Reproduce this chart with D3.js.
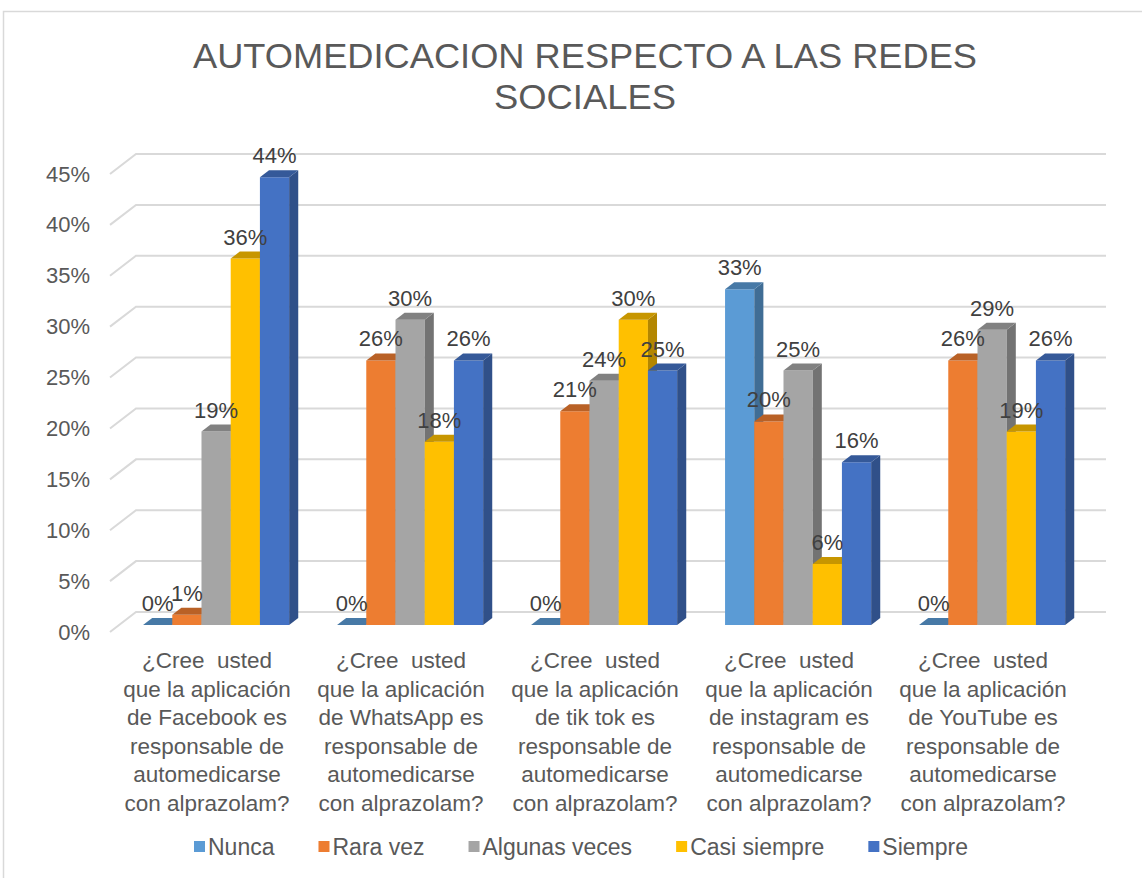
<!DOCTYPE html>
<html>
<head>
<meta charset="utf-8">
<script src="https://cdn.jsdelivr.net/npm/d3@7"></script>
<style>
  body { margin: 0; background: #fff; }
  svg text { font-family: 'Liberation Sans', Arial, sans-serif; }
</style>
</head>
<body>
<div id="chart"></div>
<script>
// data
const categories = ['facebook', 'whatsapp', 'tiktok', 'instagram', 'youtube']
const categoryLabels = [
  ['¿Cree  usted', 'que la aplicación', 'de Facebook es', 'responsable de', 'automedicarse', 'con alprazolam?'],
  ['¿Cree  usted', 'que la aplicación', 'de WhatsApp es', 'responsable de', 'automedicarse', 'con alprazolam?'],
  ['¿Cree  usted', 'que la aplicación', 'de tik tok es', 'responsable de', 'automedicarse', 'con alprazolam?'],
  ['¿Cree  usted', 'que la aplicación', 'de instagram es', 'responsable de', 'automedicarse', 'con alprazolam?'],
  ['¿Cree  usted', 'que la aplicación', 'de YouTube es', 'responsable de', 'automedicarse', 'con alprazolam?']
]
const seriesNames = ['Nunca', 'Rara vez', 'Algunas veces', 'Casi siempre', 'Siempre']
const nunca = [0, 0, 0, 33, 0]
const raraVez = [1, 26, 21, 20, 26]
const algunasVeces = [19, 30, 24, 25, 29]
const casiSiempre = [36, 18, 30, 6, 19]
const siempre = [44, 26, 25, 16, 26]
const yTicks = [0, 5, 10, 15, 20, 25, 30, 35, 40, 45]

const seriesValues = [nunca, raraVez, algunasVeces, casiSiempre, siempre]
const colors = ['#5B9BD5', '#ED7D31', '#A5A5A5', '#FFC000', '#4472C4']

const width = 1142
const height = 878

// 3d depth of the floor / wall
const depthX = 26
const depthY = -20
const barD0 = 0.35
const barD1 = 0.7

const svg = d3.select('#chart')
  .append('svg')
  .attr('width', width)
  .attr('height', height)

// outer border
svg.append('rect')
  .attr('x', 3.5).attr('y', 11.5)
  .attr('width', 1300).attr('height', 1000)
  .attr('fill', 'none')
  .attr('stroke', '#d9d9d9')
  .attr('stroke-width', 1.5)

/// Scales////////////////////////////////
const xScale = d3.scaleBand()
  .domain(categories)
  .range([110, 1080])
  .paddingInner(0.247)
  .paddingOuter(0.1235)

const xInner = d3.scaleBand()
  .domain(seriesNames)
  .range([0, xScale.bandwidth()])

const yScale = d3.scaleLinear()
  .domain([0, 45])
  .range([632, 174])

/// title////////////////////////////////
const title = svg.append('g')
  .attr('fill', '#595959')
  .attr('font-size', 35)
  .attr('text-anchor', 'middle')
title.append('text').attr('x', 585).attr('y', 68)
  .attr('textLength', 784).attr('lengthAdjust', 'spacingAndGlyphs')
  .text('AUTOMEDICACION RESPECTO A LAS REDES')
title.append('text').attr('x', 585).attr('y', 109)
  .attr('textLength', 182).attr('lengthAdjust', 'spacingAndGlyphs')
  .text('SOCIALES')

/// gridlines////////////////////////////////
const grid = svg.append('g').attr('class', 'grid')
grid.selectAll('path')
  .data(yTicks)
  .enter()
  .append('path')
  .attr('d', d => {
    const y = yScale(d)
    return `M110,${y}L${110 + depthX},${y + depthY}L${1080 + depthX},${y + depthY}`
  })
  .attr('fill', 'none')
  .attr('stroke', '#d9d9d9')
  .attr('stroke-width', 2)

/// y axis////////////////////////////////
const yAxis = svg.append('g')
  .attr('transform', 'translate(110,0)')
  .call(d3.axisLeft(yScale)
    .tickValues(yTicks)
    .tickSize(0)
    .tickPadding(20)
    .tickFormat(d => d + '%'))
yAxis.select('.domain').remove()
yAxis.selectAll('text')
  .attr('font-size', 22)
  .attr('fill', '#595959')
  .attr('font-family', "'Liberation Sans', Arial, sans-serif")

/// bars////////////////////////////////
const bars = []
categories.forEach((c, ci) => {
  seriesNames.forEach((s, si) => {
    bars.push({ cat: c, series: s, si: si, value: seriesValues[si][ci] })
  })
})

const barG = svg.append('g').attr('class', 'bars')
const ox0 = depthX * barD0, oy0 = depthY * barD0
const ox1 = depthX * barD1, oy1 = depthY * barD1

bars.forEach(d => {
  const x0 = xScale(d.cat) + xInner(d.series) + ox0
  const x1 = x0 + xInner.bandwidth()
  const yb = yScale(0) + oy0
  const yt = yScale(d.value) + oy0
  const dx = ox1 - ox0, dy = oy1 - oy0
  const base = d3.color(colors[d.si])
  const g = barG.append('g')
  if (d.value > 0) {
    g.append('path')
      .attr('d', `M${x0},${yb}L${x1},${yb}L${x1},${yt}L${x0},${yt}Z`)
      .attr('fill', base.formatHex())
    g.append('path')
      .attr('d', `M${x1},${yb}L${x1 + dx},${yb + dy}L${x1 + dx},${yt + dy}L${x1},${yt}Z`)
      .attr('fill', base.darker(1.0).formatHex())
  }
  g.append('path')
    .attr('d', `M${x0},${yt}L${x1},${yt}L${x1 + dx},${yt + dy}L${x0 + dx},${yt + dy}Z`)
    .attr('fill', base.darker(0.7).formatHex())
})

/// data labels////////////////////////////////
svg.append('g')
  .selectAll('text')
  .data(bars)
  .enter()
  .append('text')
  .attr('x', d => xScale(d.cat) + xInner(d.series) + xInner.bandwidth() / 2 + ox0)
  .attr('y', d => yScale(d.value) + oy0 - 14)
  .attr('text-anchor', 'middle')
  .attr('font-size', 22)
  .attr('fill', '#404040')
  .text(d => d.value + '%')

/// category labels////////////////////////////////
const catG = svg.append('g')
categories.forEach((c, ci) => {
  const t = catG.append('text')
    .attr('text-anchor', 'middle')
    .attr('font-size', 22.5)
    .attr('fill', '#595959')
    .style('white-space', 'pre')
  categoryLabels[ci].forEach((line, li) => {
    t.append('tspan')
      .attr('x', xScale(c) + xScale.bandwidth() / 2)
      .attr('y', 668 + li * 28.5)
      .text(line)
  })
})

/// legend////////////////////////////////
const legend = svg.append('g').attr('class', 'legend')
const items = seriesNames.map((s, i) => {
  const g = legend.append('g')
  g.append('rect')
    .attr('width', 11).attr('height', 11)
    .attr('y', -6)
    .attr('fill', colors[i])
  const t = g.append('text')
    .attr('x', 14)
    .attr('y', 8)
    .attr('font-size', 23)
    .attr('fill', '#595959')
    .text(s)
  return { g, w: 14 + t.node().getComputedTextLength() }
})
const gap = 44
const total = d3.sum(items, d => d.w) + gap * (items.length - 1)
let lx = 581 - total / 2
items.forEach(it => {
  it.g.attr('transform', `translate(${lx},847)`)
  lx += it.w + gap
})
</script>
</body>
</html>
